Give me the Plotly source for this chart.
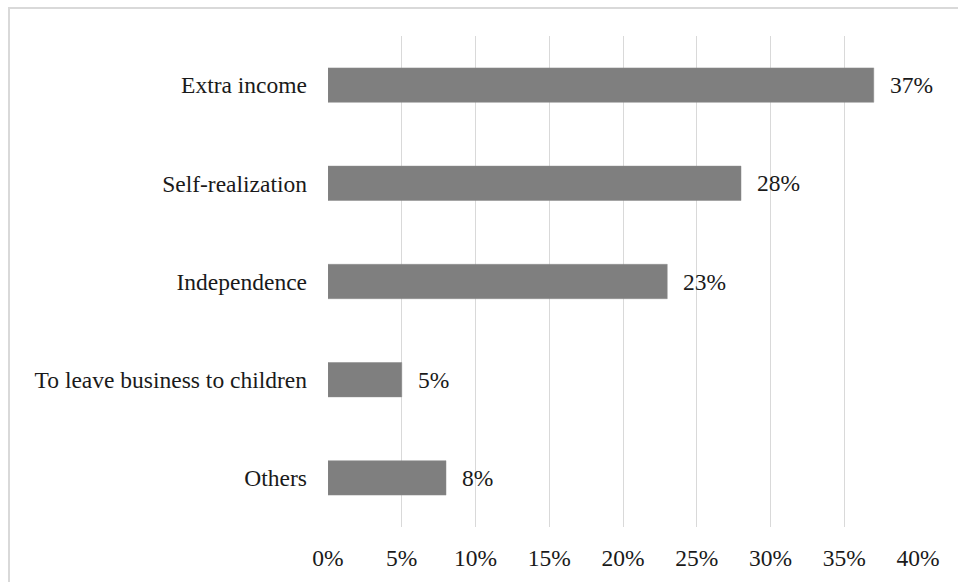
import plotly.graph_objects as go

categories = ["Extra income", "Self-realization", "Independence",
              "To leave business to children", "Others"]
values = [0.37, 0.28, 0.23, 0.05, 0.08]
tick_vals = [0, 0.05, 0.10, 0.15, 0.20, 0.25, 0.30, 0.35, 0.40]
tick_text = ["0%", "5%", "10%", "15%", "20%", "25%", "30%", "35%", "40%"]

FONT = "Liberation Serif"
FS = 23.5
W, H = 958, 582
ML, MR, MT, MB = 328, 40, 36, 55

fig = go.Figure(go.Bar(
    y=categories, x=values, orientation="h",
    marker=dict(color="#7f7f7f", line=dict(color="#8a8a8a", width=0.5)),
    width=0.35, hoverinfo="skip",
))

annotations = [
    dict(x=v, y=c, xref="x", yref="y", text=f"{round(v*100)}%",
         showarrow=False, xanchor="left", yanchor="middle", xshift=14,
         font=dict(family=FONT, size=FS, color="#1a1a1a"))
    for c, v in zip(categories, values)
]

pw = W - ML - MR
ph = H - MT - MB
bx = 9
by = 8
fig.add_shape(type="rect", xref="paper", yref="paper",
              x0=(bx - ML) / pw, x1=2.0,
              y0=-1.0, y1=(H - MB - by) / ph,
              line=dict(color="#d9d9d9", width=2), layer="below")

fig.update_layout(
    width=W, height=H,
    margin=dict(l=ML, r=MR, t=MT, b=MB),
    paper_bgcolor="white", plot_bgcolor="white",
    showlegend=False,
    annotations=annotations,
    font=dict(family=FONT, size=FS, color="#1a1a1a"),
    xaxis=dict(range=[0, 0.40], tickvals=tick_vals, ticktext=tick_text,
               showgrid=True, gridcolor="#d9d9d9", gridwidth=1.3,
               zeroline=False, showline=False, ticks="",
               ticklabelstandoff=14,
               tickfont=dict(family=FONT, size=FS, color="#1a1a1a"),
               fixedrange=True),
    yaxis=dict(categoryorder="array", categoryarray=categories[::-1],
               showgrid=False, zeroline=False, showline=False, ticks="",
               ticklabelstandoff=20,
               tickfont=dict(family=FONT, size=FS, color="#1a1a1a"),
               fixedrange=True),
)

fig.write_html("out.html", config={"displayModeBar": False})
